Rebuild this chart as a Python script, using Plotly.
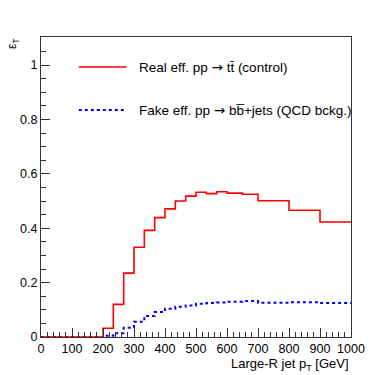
import plotly.graph_objects as go

# bin edges in GeV (large-R jet pT)
bin_edges = [0, 33.3, 66.7, 100, 133.3, 166.7, 200, 233.3, 266.7, 300, 333.3,
             366.7, 400, 433.3, 466.7, 500, 533.3, 566.7, 600, 650, 700, 800,
             900, 1000]

# real efficiency, pp -> ttbar (control)
real_eff = [0, 0, 0, 0, 0, 0, 0.032, 0.120, 0.235, 0.330, 0.392, 0.439,
            0.471, 0.500, 0.518, 0.532, 0.527, 0.534, 0.529, 0.525, 0.501,
            0.466, 0.423]

# fake efficiency, pp -> bbbar+jets (QCD background)
fake_eff = [0, 0, 0, 0, 0, 0, 0.005, 0.014, 0.034, 0.056, 0.077, 0.092,
            0.104, 0.111, 0.116, 0.122, 0.125, 0.127, 0.130, 0.132, 0.126,
            0.128, 0.125]

x_ticks = [0, 100, 200, 300, 400, 500, 600, 700, 800, 900, 1000]
y_ticks = [0, 0.2, 0.4, 0.6, 0.8, 1]

ARROW = "<span style='font-family:DejaVu Sans'>\u2192</span>"
label_real = "Real eff. pp " + ARROW + " tt\u0304 (control)"
label_fake = "Fake eff. pp " + ARROW + " bb\u0305+jets (QCD bckg.)"

FONT = "Liberation Sans, Arial, sans-serif"
AXC = "#333333"

fig = go.Figure()
fig.add_trace(go.Scatter(x=bin_edges, y=fake_eff + [fake_eff[-1]],
                         mode="lines", line_shape="hv",
                         line=dict(color="#0000ff", width=2, dash="dot"),
                         showlegend=False))
fig.add_trace(go.Scatter(x=bin_edges, y=real_eff + [real_eff[-1]],
                         mode="lines", line_shape="hv",
                         line=dict(color="#ff0000", width=1.6),
                         showlegend=False))

# hand-drawn legend, ROOT style
legend_rows = [(label_real, 0.9, dict(color="#ff0000", width=1.6)),
               (label_fake, 0.757, dict(color="#0000ff", width=2, dash="dot"))]
for text, yy, line in legend_rows:
    fig.add_shape(type="line", xref="paper", yref="paper",
                  x0=0.122, x1=0.276, y0=yy, y1=yy, line=line)
    fig.add_annotation(text=text, xref="paper", yref="paper", x=0.311, y=yy,
                       xanchor="left", yanchor="middle", showarrow=False,
                       font=dict(size=13.5, family=FONT, color="black"))

# y title (rotated, top left)
fig.add_annotation(text="ε<sub>T</sub>", xref="paper", yref="paper",
                   x=-0.09, y=1.0, xanchor="center", yanchor="top",
                   textangle=-90, showarrow=False,
                   font=dict(size=12, family=FONT, color="black"))

# x title (right aligned, under the tick labels)
fig.add_annotation(text="Large-R jet p<sub>T</sub> [GeV]", xref="paper", yref="paper",
                   x=1.0, y=-0.056, xanchor="right", yanchor="top", showarrow=False,
                   font=dict(size=13, family=FONT, color="black"))

axis_common = dict(showgrid=False, zeroline=False, showline=True, mirror=True,
                   linecolor=AXC, linewidth=1, ticks="inside",
                   tickcolor=AXC, ticklen=9,
                   tickfont=dict(size=12.5, family=FONT, color="black"))

# page body keeps its 8px default margin, so the figure is 8px smaller
fig.update_layout(
    width=382, height=367,
    margin=dict(l=31, r=39, t=29, b=38),
    paper_bgcolor="white", plot_bgcolor="white",
    font=dict(family=FONT, color="black"),
    xaxis=dict(range=[0, 1000], tickvals=x_ticks,
               minor=dict(dtick=20, ticks="inside", ticklen=5, tickcolor=AXC),
               **axis_common),
    yaxis=dict(range=[0, 1.103], tickvals=y_ticks,
               minor=dict(dtick=0.05, ticks="inside", ticklen=5, tickcolor=AXC),
               **axis_common),
)

fig.write_html("out.html")
